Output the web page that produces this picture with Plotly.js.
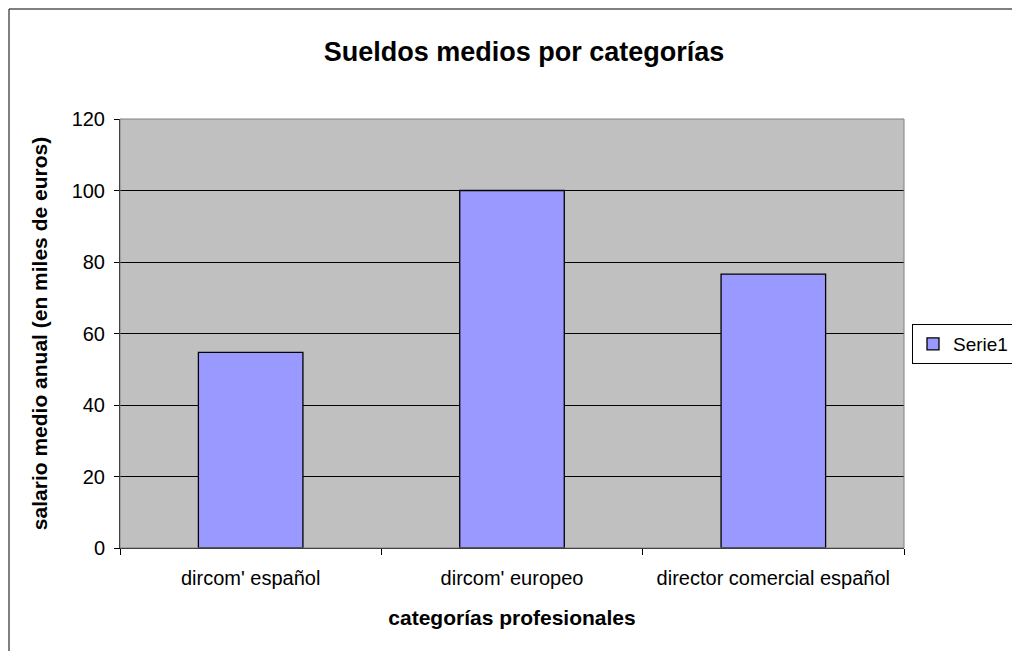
<!DOCTYPE html>
<html>
<head>
<meta charset="utf-8">
<script src="https://cdn.plot.ly/plotly-3.0.1.min.js"></script>
<style>html,body{margin:0;padding:0;background:#fff;}#chart{width:1012px;height:651px;}</style>
</head>
<body>
<div id="chart"></div>
<script>
var categories = ["dircom' español", "dircom' europeo", "director comercial español"];
var serie1 = [54.7, 100, 76.6];
var seriesName = "Serie1";
var yTicks = [0, 20, 40, 60, 80, 100, 120];

var FONT = "Liberation Sans, Arial, sans-serif";

var trace = {
  type: "bar",
  x: categories,
  y: serie1,
  name: seriesName,
  marker: {color: "#9999FF", line: {color: "#000000", width: 1.3}},
  showlegend: true
};

var layout = {
  width: 1012, height: 651,
  margin: {l: 120, r: 108, t: 119, b: 103, autoexpand: false},
  paper_bgcolor: "#ffffff",
  plot_bgcolor: "#C0C0C0",
  bargap: 0.6,
  font: {family: FONT, size: 20, color: "#000"},
  title: {text: "<b>Sueldos medios por categorías</b>", font: {family: FONT, size: 27, color: "#000"},
          x: (524 - 120) / 784, xref: "paper", xanchor: "center", y: 1 - 52/651, yanchor: "middle"},
  xaxis: {
    type: "category",
    tickson: "boundaries",
    ticks: "outside", ticklen: 6, tickcolor: "#000", tickwidth: 1,
    ticklabelstandoff: 12,
    showline: true, linecolor: "#000", linewidth: 1,
    showgrid: false,
    automargin: false,
    tickfont: {family: FONT, size: 20, color: "#000"},
    title: {text: "<b>categorías profesionales</b>", font: {family: FONT, size: 21, color: "#000"}, standoff: 22}
  },
  yaxis: {
    range: [0, 120],
    tickvals: yTicks,
    ticks: "outside", ticklen: 5, tickcolor: "#000", tickwidth: 1,
    ticklabelstandoff: 5,
    showline: true, linecolor: "#000", linewidth: 1,
    showgrid: true, gridcolor: "#000", gridwidth: 1,
    zeroline: false,
    automargin: false,
    tickfont: {family: FONT, size: 20, color: "#000"},
    title: {text: "<b>salario medio anual (en miles de euros)</b>", font: {family: FONT, size: 21, color: "#000"}, standoff: 18}
  },
  legend: {
    x: (912 - 120) / 784, xanchor: "left",
    y: (548 - 344) / 429, yanchor: "middle",
    bordercolor: "#000", borderwidth: 1, bgcolor: "#fff",
    itemwidth: 30,
    font: {family: FONT, size: 19, color: "#000"}
  },
  shapes: [
    {type: "rect", xref: "paper", yref: "paper", x0: 0, x1: 1, y0: 0, y1: 1,
     line: {color: "#808080", width: 1}, layer: "above"},
    {type: "rect", xref: "paper", yref: "paper",
     x0: (9 - 120) / 784, x1: (1030 - 120) / 784,
     y0: (548 - 670) / 429, y1: (548 - 9) / 429,
     line: {color: "#000", width: 1}}
  ]
};

Plotly.newPlot("chart", [trace], layout, {displayModeBar: false, staticPlot: true});
</script>
</body>
</html>
